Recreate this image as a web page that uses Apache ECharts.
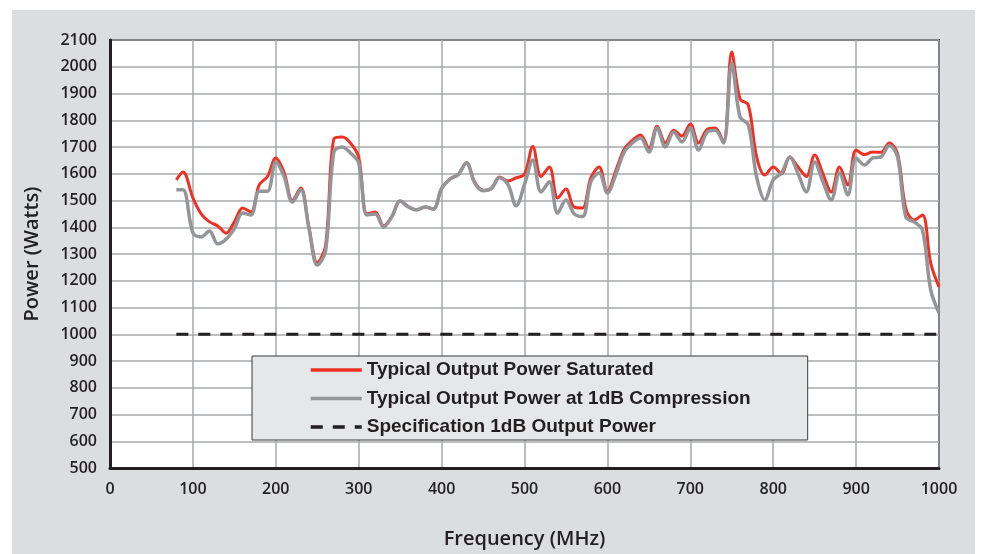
<!DOCTYPE html>
<html lang="en">
<head>
<meta charset="UTF-8">
<title>Output Power vs Frequency</title>
<script src="https://cdn.jsdelivr.net/npm/echarts@6/dist/echarts.min.js"></script>
<style>
    html, body { margin: 0; padding: 0; background: #fff; }
    #main { width: 981px; height: 554px; }
</style>
</head>
<body>
<div id="main"></div>
<script>
    // frequency points (MHz) shared by both measured curves
    var freq = [80, 88, 100, 110, 120, 130, 140, 150, 160, 170, 180, 190, 200, 210, 220, 230, 240, 250, 260, 270,
        280, 290, 300, 310, 320, 330, 340, 350, 360, 370, 380, 390, 400, 410, 420, 430, 440, 450, 460, 470,
        480, 490, 500, 510, 520, 530, 540, 550, 560, 570, 580, 590, 600, 610, 620, 630, 640, 650, 660, 670,
        680, 690, 700, 710, 720, 730, 740, 750, 760, 770, 780, 790, 800, 810, 820, 830, 840, 850, 860, 870,
        880, 890, 900, 910, 920, 930, 940, 950, 960, 970, 980, 990, 1000];

    // Typical Output Power Saturated (W)
    var saturated = [1577, 1607, 1510, 1450, 1420, 1405, 1378, 1420, 1472, 1457, 1558, 1590, 1659, 1605, 1500, 1547, 1400, 1268, 1330, 1730,
        1737, 1715, 1662, 1450, 1457, 1405, 1440, 1498, 1476, 1465, 1476, 1468, 1545, 1580, 1597, 1642, 1568, 1538, 1545, 1588,
        1573, 1585, 1598, 1702, 1590, 1625, 1509, 1543, 1475, 1472, 1585, 1625, 1535, 1610, 1690, 1725, 1745, 1696, 1778, 1715,
        1763, 1741, 1786, 1715, 1765, 1771, 1719, 2055, 1880, 1857, 1663, 1595, 1625, 1600, 1663, 1625, 1590, 1670, 1600, 1532,
        1625, 1558, 1689, 1672, 1681, 1680, 1715, 1675, 1470, 1427, 1446, 1266, 1177];

    // Typical Output Power at 1dB Compression (W)
    var compression = [1540, 1540, 1379, 1364, 1386, 1338, 1355, 1395, 1453, 1446, 1535, 1535, 1644, 1590, 1494, 1540, 1395, 1259, 1310, 1681,
        1700, 1678, 1640, 1446, 1450, 1401, 1440, 1498, 1476, 1465, 1476, 1468, 1545, 1580, 1597, 1640, 1565, 1536, 1545, 1585,
        1560, 1480, 1560, 1651, 1532, 1570, 1453, 1502, 1450, 1440, 1570, 1603, 1528, 1595, 1680, 1715, 1734, 1681, 1771, 1700,
        1756, 1719, 1771, 1689, 1755, 1763, 1715, 2014, 1812, 1782, 1588, 1502, 1577, 1603, 1663, 1600, 1532, 1644, 1570, 1502,
        1603, 1521, 1659, 1633, 1659, 1663, 1707, 1663, 1438, 1420, 1390, 1166, 1080];

    // Specification 1dB Output Power
    var specFreq = [80, 1000];
    var specPower = [1000, 1000];

    var names = ['Typical Output Power Saturated', 'Typical Output Power at 1dB Compression', 'Specification 1dB Output Power'];

    function pairs(xs, ys) {
        return xs.map(function (x, i) { return [x, ys[i]]; });
    }

    var ink = '#231f20';
    var tickFont = { color: ink, fontSize: 16, fontWeight: 600, fontFamily: 'Open Sans, Liberation Sans, sans-serif' };
    var titleFont = { color: ink, fontSize: 20, fontWeight: 600, fontFamily: 'Open Sans, Liberation Sans, sans-serif' };
    var plain = function (v) { return String(v); };

    var chart = echarts.init(document.getElementById('main'));
    chart.setOption({
        animation: false,
        backgroundColor: '#fff',
        graphic: [{
            type: 'rect', z: -100, silent: true,
            shape: { x: 12, y: 10, width: 963, height: 560 },
            style: { fill: '#dcdddf' }
        }],
        grid: {
            left: 110, top: 40, right: 42, bottom: 86,
            show: true, backgroundColor: '#fff',
            borderColor: ink, borderWidth: 2
        },
        legend: {
            data: names,
            orient: 'vertical',
            left: 252, top: 356,
            backgroundColor: '#e6e7e8',
            borderColor: '#3a3a3c', borderWidth: 1,
            padding: [4, 57, 3, 57],
            itemWidth: 51, itemHeight: 14, itemGap: 8.5,
            itemStyle: { color: 'rgba(0,0,0,0)', borderWidth: 0, opacity: 0 },
            lineStyle: { width: 3.5 },
            textStyle: { color: ink, fontSize: 19, fontWeight: 'bold', fontFamily: 'Liberation Sans, Arial, sans-serif', lineHeight: 20 }
        },
        xAxis: {
            type: 'value', min: 0, max: 1000, interval: 100,
            name: 'Frequency (MHz)', nameLocation: 'middle', nameGap: 61,
            nameTextStyle: titleFont,
            axisLine: { show: true, lineStyle: { color: ink, width: 3 } },
            axisTick: { show: false },
            axisLabel: Object.assign({ margin: 13, formatter: plain }, tickFont),
            splitLine: { show: true, lineStyle: { color: '#a6a8ab', width: 1.5 } }
        },
        yAxis: {
            type: 'value', min: 500, max: 2100, interval: 100,
            name: 'Power (Watts)', nameLocation: 'middle', nameGap: 68,
            nameTextStyle: titleFont,
            axisLine: { show: true, lineStyle: { color: ink, width: 3 } },
            axisTick: { show: false },
            axisLabel: Object.assign({ margin: 13, formatter: plain }, tickFont),
            splitLine: { show: true, lineStyle: { color: '#a6a8ab', width: 1.5 } }
        },
        series: [
            {
                name: names[0], type: 'line', data: pairs(freq, saturated),
                smooth: 0.35, symbol: 'none', z: 3,
                color: '#ee3124',
                lineStyle: { color: '#ee3124', width: 3 }
            },
            {
                name: names[1], type: 'line', data: pairs(freq, compression),
                smooth: 0.35, symbol: 'none', z: 4,
                color: '#939598',
                lineStyle: { color: '#939598', width: 3.5 }
            },
            {
                name: names[2], type: 'line', data: pairs(specFreq, specPower),
                symbol: 'none', z: 5,
                color: ink,
                lineStyle: { color: ink, width: 3, type: [12, 10] }
            }
        ]
    });
</script>
</body>
</html>
